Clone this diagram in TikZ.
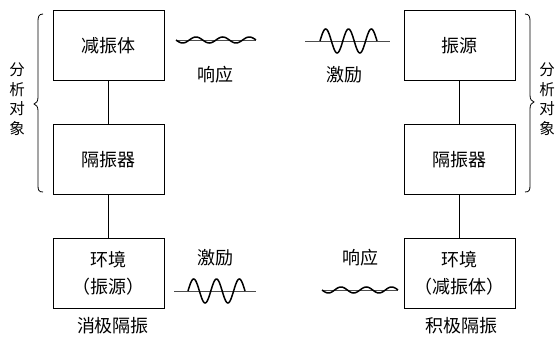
\documentclass[tikz,border=0pt]{standalone}
\usepackage{fontspec}
\newfontfamily\cjk{Noto Sans CJK SC}
\begin{document}
\begin{tikzpicture}[x=1pt,y=-1pt,
  box/.style={draw=black,line width=0.9pt,minimum width=111pt,minimum height=70pt,inner sep=0pt,align=center,font=\cjk\fontsize{18}{27}\selectfont},
  lbl/.style={inner sep=0pt,font=\cjk\fontsize{18}{22}\selectfont},
  vlbl/.style={inner sep=0pt,align=center,font=\cjk\fontsize{15.5}{19.5}\selectfont},
  conn/.style={draw=black,line width=0.7pt},
  base/.style={draw=black!70,line width=0.6pt},
  wave/.style={draw=black,line width=1.5pt,smooth,samples=90},
  brc/.style={draw=black,line width=0.8pt}]
\useasboundingbox (0,0) rectangle (558,337);
% left column
\node[box] (L1) at (108.5,45.5) {减振体};
\node[box] (L2) at (108.5,159.5) {隔振器};
\node[box] (L3) at (108.5,273) {环境\\（振源）};
\draw[conn] (L1) -- (L2);
\draw[conn] (L2) -- (L3);
% right column
\node[box] (R1) at (459.5,45.5) {振源};
\node[box] (R2) at (459.5,159.5) {隔振器};
\node[box] (R3) at (459.5,273) {环境\\（减振体）};
\draw[conn] (R1) -- (R2);
\draw[conn] (R2) -- (R3);
% labels
\node[lbl] (t1) at (215,75) {响应};
\node[lbl] (t2) at (344,75) {激励};
\node[lbl] (t3) at (215,258) {激励};
\node[lbl] (t4) at (360,258) {响应};
\node[lbl] (t5) at (113,326) {消极隔振};
\node[lbl] (t6) at (461,326) {积极隔振};
\node[vlbl] (v1) at (17,99) {分\\析\\对\\象};
\node[vlbl] (v2) at (547,99) {分\\析\\对\\象};
% braces
\draw[brc] (43,14) .. controls (38.5,14) and (38,17) .. (38,22) -- (38,97)
  .. controls (38,101.5) and (36.5,103) .. (34,104)
  .. controls (36.5,105) and (38,106.5) .. (38,111) -- (38,185)
  .. controls (38,190) and (38.5,192) .. (43,192);
\draw[brc] (525,14) .. controls (529.5,14) and (530,17) .. (530,22) -- (530,95)
  .. controls (530,99.5) and (531.5,101) .. (534,102)
  .. controls (531.5,103) and (530,104.5) .. (530,109) -- (530,185)
  .. controls (530,190) and (529.5,192) .. (525,192);
% response wave top-left
\draw[base] (176,40) -- (256,40);
\draw[wave] plot[domain=0:80] ({176+\x},{40+3*sin(13.5*\x)});
% excitation wave top-right
\draw[base] (305,41) -- (390,41);
\draw[wave] plot[domain=0:57] ({320+\x},{41-12*sin(15.79*\x)});
% excitation wave bottom-left
\draw[base] (174,291) -- (256,291);
\draw[wave] plot[domain=0:57] ({188+\x},{291-12*sin(15.79*\x)});
% response wave bottom-right
\draw[base] (322,290) -- (398,290);
\draw[wave] plot[domain=0:76] ({322+\x},{290+3*sin(14.21*\x)});
\end{tikzpicture}
\end{document}
